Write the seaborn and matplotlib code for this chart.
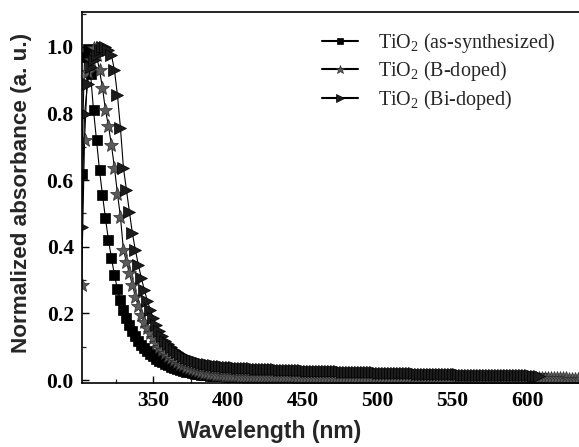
import matplotlib
matplotlib.use("Agg")
import matplotlib.pyplot as plt
import seaborn as sns
import pandas as pd
from matplotlib.ticker import MultipleLocator, FormatStrFormatter

# ---------------- data ----------------
labels = ["TiO$_{\\rm 2}$ (as-synthesized)",
          "TiO$_{\\rm 2}$ (B-doped)",
          "TiO$_{\\rm 2}$ (Bi-doped)"]
start_nm = 302
step_nm = 2

abs_as = [
    0.62, 0.97, 0.995, 0.92, 0.81, 0.72, 0.63, 0.555, 0.485, 0.42,
    0.366, 0.315, 0.273, 0.24, 0.21, 0.186, 0.165, 0.147, 0.131, 0.117,
    0.105, 0.095, 0.086, 0.078, 0.071, 0.064, 0.058, 0.053, 0.048, 0.044,
    0.040, 0.036, 0.033, 0.030, 0.027, 0.025, 0.023, 0.021, 0.019, 0.017,
    0.016, 0.015, 0.014, 0.013, 0.013, 0.012, 0.012, 0.011, 0.011, 0.010,
    0.010, 0.010, 0.010, 0.009, 0.009, 0.009, 0.009, 0.009, 0.009, 0.009,
    0.009, 0.009, 0.009, 0.009, 0.009, 0.009, 0.009, 0.009, 0.009, 0.009,
    0.009, 0.009, 0.008, 0.008, 0.008, 0.008, 0.008, 0.008, 0.008, 0.008,
    0.008, 0.008, 0.008, 0.008, 0.008, 0.008, 0.008, 0.008, 0.008, 0.008,
    0.008, 0.008, 0.008, 0.008, 0.008, 0.008, 0.008, 0.008, 0.008, 0.008,
    0.008, 0.008, 0.007, 0.007, 0.007, 0.007, 0.007, 0.007, 0.007, 0.007,
    0.007, 0.007, 0.007, 0.007, 0.007, 0.007, 0.007, 0.007, 0.007, 0.007,
    0.007, 0.007, 0.007, 0.007, 0.007, 0.007, 0.007, 0.007, 0.007, 0.007,
    0.007, 0.007, 0.007, 0.007, 0.007, 0.007, 0.007, 0.007, 0.007, 0.007,
    0.007, 0.007, 0.006, 0.006, 0.006, 0.006, 0.006, 0.006, 0.006, 0.006,
    0.006, 0.006, 0.006, 0.006, 0.006,
]

abs_b = [
    0.285, 0.72, 0.925, 0.96, 0.997, 0.975, 0.93, 0.877, 0.81, 0.763,
    0.705, 0.637, 0.56, 0.49, 0.39, 0.355, 0.32, 0.285, 0.25, 0.222,
    0.196, 0.175, 0.156, 0.14, 0.125, 0.112, 0.100, 0.090, 0.081, 0.073,
    0.066, 0.060, 0.054, 0.049, 0.044, 0.040, 0.036, 0.032, 0.029, 0.026,
    0.024, 0.022, 0.020, 0.018, 0.017, 0.016, 0.015, 0.014, 0.013, 0.012,
    0.012, 0.011, 0.011, 0.010, 0.010, 0.010, 0.009, 0.009, 0.009, 0.009,
    0.008, 0.008, 0.008, 0.008, 0.008, 0.008, 0.008, 0.008, 0.008, 0.008,
    0.008, 0.008, 0.007, 0.007, 0.007, 0.007, 0.007, 0.007, 0.007, 0.007,
    0.007, 0.007, 0.007, 0.007, 0.007, 0.007, 0.007, 0.007, 0.007, 0.007,
    0.007, 0.007, 0.006, 0.006, 0.006, 0.006, 0.006, 0.006, 0.006, 0.006,
    0.006, 0.006, 0.006, 0.006, 0.006, 0.006, 0.006, 0.006, 0.006, 0.006,
    0.006, 0.006, 0.006, 0.006, 0.006, 0.006, 0.006, 0.006, 0.006, 0.006,
    0.006, 0.006, 0.006, 0.006, 0.006, 0.006, 0.006, 0.006, 0.006, 0.006,
    0.006, 0.006, 0.006, 0.006, 0.006, 0.006, 0.006, 0.006, 0.006, 0.006,
    0.006, 0.006, 0.005, 0.005, 0.005, 0.005, 0.005, 0.005, 0.005, 0.005,
    0.005, 0.005, 0.005, 0.005, 0.005, 0.005, 0.005, 0.005, 0.005, 0.005,
    0.005, 0.005, 0.005, 0.004, 0.004, 0.004, 0.004, 0.004,
]

abs_bi = [
    0.46, 0.80, 0.89, 0.94, 0.96, 0.975, 0.99, 1.0, 1.0, 0.99,
    0.975, 0.93, 0.855, 0.757, 0.637, 0.57, 0.505, 0.44, 0.39, 0.345,
    0.306, 0.27, 0.238, 0.21, 0.185, 0.164, 0.146, 0.131, 0.118, 0.107,
    0.098, 0.090, 0.083, 0.077, 0.072, 0.067, 0.063, 0.059, 0.056, 0.053,
    0.051, 0.049, 0.047, 0.045, 0.044, 0.043, 0.042, 0.041, 0.040, 0.039,
    0.038, 0.038, 0.037, 0.037, 0.036, 0.036, 0.035, 0.035, 0.034, 0.034,
    0.033, 0.033, 0.033, 0.032, 0.032, 0.032, 0.031, 0.031, 0.031, 0.030,
    0.030, 0.030, 0.029, 0.029, 0.029, 0.028, 0.028, 0.028, 0.028, 0.027,
    0.027, 0.027, 0.027, 0.026, 0.026, 0.026, 0.026, 0.025, 0.025, 0.025,
    0.025, 0.024, 0.024, 0.024, 0.024, 0.023, 0.023, 0.023, 0.023, 0.022,
    0.022, 0.022, 0.022, 0.021, 0.021, 0.021, 0.021, 0.020, 0.020, 0.020,
    0.020, 0.020, 0.019, 0.019, 0.019, 0.019, 0.019, 0.018, 0.018, 0.018,
    0.018, 0.018, 0.017, 0.017, 0.017, 0.017, 0.017, 0.016, 0.016, 0.016,
    0.016, 0.016, 0.016, 0.015, 0.015, 0.015, 0.015, 0.015, 0.015, 0.015,
    0.015, 0.015, 0.014, 0.014, 0.014, 0.014, 0.014, 0.014, 0.014, 0.014,
    0.014, 0.013, 0.013, 0.013,
]

x_ticks = [350, 400, 450, 500, 550, 600]
y_ticks = [0.0, 0.2, 0.4, 0.6, 0.8, 1.0]

# ---------------- build tidy table ----------------
frames = []
for lab, vals in zip(labels, [abs_as, abs_b, abs_bi]):
    wl = [start_nm + step_nm * i for i in range(len(vals))]
    frames.append(pd.DataFrame({"wavelength": wl, "absorbance": vals, "sample": lab}))
df = pd.concat(frames, ignore_index=True)

# ---------------- style ----------------
sns.set_style("ticks")
plt.rcParams["font.family"] = ["Liberation Serif", "DejaVu Serif"]
plt.rcParams["mathtext.fontset"] = "custom"
plt.rcParams["mathtext.rm"] = "Liberation Serif"
plt.rcParams["mathtext.it"] = "Liberation Serif:italic"
plt.rcParams["mathtext.bf"] = "Liberation Serif:bold"

fig = plt.figure(figsize=(5.79, 4.47), dpi=100)
W, H = 579, 447
ax = fig.add_axes([82 / W, (H - 383) / H, 499 / W, 371 / H])

styles = {
    labels[0]: dict(marker="s", markersize=7.0, markerfacecolor="black",
                    markeredgecolor="black", markeredgewidth=0.5),
    labels[1]: dict(marker="*", markersize=10.5, markerfacecolor="#5a5a5a",
                    markeredgecolor="#2a2a2a", markeredgewidth=0.5),
    labels[2]: dict(marker=">", markersize=9.0, markerfacecolor="#1c1c1c",
                    markeredgecolor="black", markeredgewidth=0.5),
}
for lab in labels:
    sub = df[df["sample"] == lab]
    sns.lineplot(data=sub, x="wavelength", y="absorbance", ax=ax,
                 color="black", linewidth=0.8, estimator=None, sort=False,
                 label=lab, **styles[lab])

ax.set_xlim(302.3, 635.9)
ax.set_ylim(-0.009, 1.105)
ax.set_xticks(x_ticks)
ax.set_yticks(y_ticks)
ax.xaxis.set_minor_locator(MultipleLocator(25))
ax.yaxis.set_minor_locator(MultipleLocator(0.1))
ax.yaxis.set_major_formatter(FormatStrFormatter("%.1f"))

for s in ax.spines.values():
    s.set_linewidth(1.2)
    s.set_color("black")
ax.tick_params(axis="both", which="major", direction="in", length=5, width=1.0,
               labelsize=15.5, pad=6, colors="black")
ax.tick_params(axis="both", which="minor", direction="in", length=3, width=0.9)
for t in ax.get_xticklabels() + ax.get_yticklabels():
    t.set_fontweight("bold")
    t.set_family(["Liberation Serif"])

ax.set_xlabel("Wavelength (nm)", fontsize=16.5, fontweight="bold",
              family=["Liberation Sans", "DejaVu Sans"])
ax.set_ylabel("Normalized absorbance (a. u.)", fontsize=16.2, fontweight="bold",
              family=["Liberation Sans", "DejaVu Sans"])
ax.xaxis.set_label_coords((270 - 82) / 499, (383 - 420) / 371)
ax.yaxis.set_label_coords((32 - 82) / 499, (383 - 193) / 371)

leg = ax.legend(loc="upper left", bbox_to_anchor=(322 / W, 1 - 31 / H),
                bbox_transform=fig.transFigure, frameon=False, fontsize=14.5,
                handlelength=1.8, handletextpad=1.0, labelspacing=0.22,
                markerscale=0.6, borderpad=0, borderaxespad=0)
for h in leg.get_lines():
    h.set_linewidth(1.5)

fig.savefig("out.png", dpi=100)
